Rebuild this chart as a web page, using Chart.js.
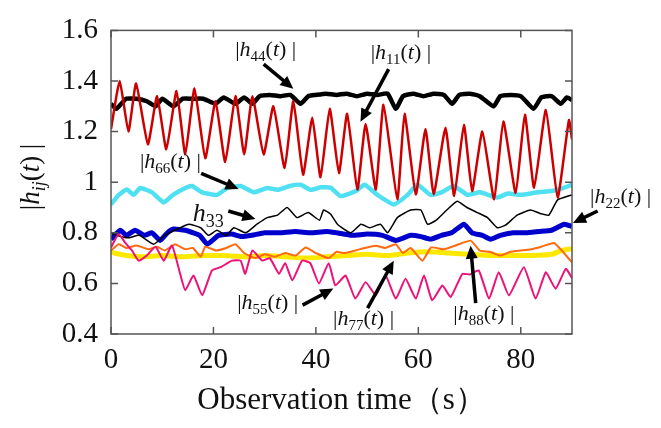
<!DOCTYPE html>
<html>
<head>
<meta charset="utf-8">
<script src="https://cdn.jsdelivr.net/npm/chart.js@4.4.1/dist/chart.umd.min.js"></script>
<style>
  html, body { margin: 0; background: #fff; }
  #wrap { width: 661px; height: 428px; }
</style>
</head>
<body>
<div id="wrap"><canvas id="c"></canvas></div>
<script>
// |h_ij(t)| vs observation time (s)
const t11 = [0, 1.7, 3.4, 4.9, 7.2, 9.0, 10.8, 12.8, 14.5, 16.3, 18.4, 20.4, 22.3, 24.3, 26.0, 27.6, 29.8, 31.7, 33.9, 35.6, 37.5, 39.3, 40.9, 42.7, 44.5, 46.1, 48.1, 49.7, 51.7, 53.2, 55.9, 57.3, 59.5, 61.4, 63.0, 65.3, 67.0, 68.9, 70.5, 72.5, 74.8, 76.6, 79.0, 80.8, 82.6, 84.9, 87.2, 89.4, 90];
const h11 = [1.21, 1.40, 1.20, 1.39, 1.15, 1.34, 1.13, 1.36, 1.11, 1.37, 1.095, 1.32, 1.08, 1.34, 1.11, 1.34, 1.11, 1.30, 1.056, 1.32, 1.03, 1.255, 1.02, 1.29, 1.036, 1.27, 0.971, 1.23, 0.971, 1.306, 0.933, 1.27, 0.952, 1.21, 0.952, 1.215, 0.945, 1.226, 0.965, 1.20, 0.933, 1.24, 0.958, 1.267, 0.978, 1.285, 0.94, 1.245, 1.17];

const t44 = [0, 1, 2, 3, 5, 7, 8.7, 10, 12.2, 14, 16, 18, 20.4, 22, 24.3, 26, 27.6, 29, 31, 33, 35, 37, 38.5, 40, 42, 44, 46, 48, 50, 52, 54, 55.6, 57, 59, 61, 63, 65, 66.6, 68, 70, 72, 74.7, 76, 78, 80, 82.5, 84, 86, 87.8, 89, 90];
const h44 = [1.31, 1.29, 1.31, 1.33, 1.33, 1.32, 1.30, 1.33, 1.30, 1.33, 1.33, 1.33, 1.31, 1.335, 1.31, 1.335, 1.31, 1.34, 1.345, 1.34, 1.345, 1.31, 1.34, 1.345, 1.35, 1.345, 1.35, 1.34, 1.35, 1.345, 1.35, 1.29, 1.34, 1.35, 1.34, 1.35, 1.345, 1.31, 1.345, 1.35, 1.34, 1.30, 1.34, 1.345, 1.34, 1.29, 1.335, 1.34, 1.31, 1.335, 1.325];

const t66 = [0, 1.5, 3.1, 4.4, 5.7, 8, 10.3, 12.1, 14.5, 15.8, 17.8, 20.7, 22.7, 25.3, 27.9, 30.5, 32.5, 34.9, 37, 39, 41, 42.9, 44.8, 47.8, 49.5, 52, 55.2, 57.9, 59.8, 62.4, 64.5, 66.9, 69.6, 72, 75.4, 77.5, 80, 83.3, 86, 88, 90];
const h66 = [0.912, 0.95, 0.971, 0.95, 0.977, 0.96, 0.92, 0.95, 0.977, 0.985, 0.96, 0.95, 0.977, 0.985, 0.96, 0.977, 0.97, 0.985, 0.99, 0.97, 0.98, 0.978, 0.945, 0.965, 0.99, 0.95, 0.912, 0.95, 0.99, 0.95, 0.96, 0.985, 0.95, 0.96, 0.94, 0.955, 0.95, 0.96, 0.965, 0.975, 0.99];

const t33 = [0, 1, 3.4, 5.5, 8.3, 10.5, 13.5, 15.2, 17.5, 19, 20.7, 22.5, 24, 26.3, 28.5, 30.5, 32.5, 34.4, 36.3, 38.5, 40.7, 41.5, 42.9, 44.2, 46.8, 48.8, 50.5, 52.6, 54, 55.9, 58.5, 60.5, 61.8, 63.5, 65.7, 67.6, 69.5, 71.5, 73.5, 75.4, 77, 79.3, 81.9, 84, 85.5, 87.2, 90];
const h33 = [0.80, 0.79, 0.78, 0.79, 0.755, 0.79, 0.82, 0.834, 0.82, 0.79, 0.81, 0.79, 0.82, 0.80, 0.834, 0.86, 0.87, 0.90, 0.86, 0.88, 0.85, 0.89, 0.873, 0.834, 0.80, 0.834, 0.82, 0.834, 0.80, 0.86, 0.89, 0.89, 0.834, 0.85, 0.893, 0.925, 0.90, 0.88, 0.86, 0.82, 0.83, 0.87, 0.89, 0.875, 0.87, 0.93, 0.95];

const t22 = [0, 1.8, 3, 4.7, 6.5, 8, 9.6, 11, 12.2, 14.5, 17.3, 18.8, 21, 23.5, 25.5, 27.5, 30, 33, 36, 39, 42, 44, 47, 50, 53, 55.6, 58.5, 60.5, 62.4, 64.5, 66.5, 68.9, 70.5, 72.5, 74.1, 76, 78.5, 81, 83.5, 86, 88.5, 90];
const h22 = [0.775, 0.81, 0.79, 0.81, 0.79, 0.80, 0.77, 0.80, 0.815, 0.81, 0.79, 0.755, 0.79, 0.795, 0.785, 0.79, 0.80, 0.80, 0.805, 0.80, 0.805, 0.80, 0.79, 0.795, 0.79, 0.77, 0.79, 0.785, 0.775, 0.79, 0.80, 0.834, 0.80, 0.79, 0.775, 0.79, 0.80, 0.80, 0.805, 0.81, 0.834, 0.825];

const t77 = [0, 3, 6, 10, 14, 18, 22, 26, 30, 34, 38, 42, 46, 50, 54, 58, 62, 66, 70, 74, 78, 82, 86, 88, 90];
const h77 = [0.723, 0.71, 0.705, 0.71, 0.705, 0.71, 0.71, 0.705, 0.71, 0.705, 0.70, 0.705, 0.71, 0.715, 0.71, 0.72, 0.725, 0.72, 0.715, 0.71, 0.71, 0.71, 0.715, 0.73, 0.737];

const t88 = [0, 1.5, 3, 5, 7.3, 9, 10.5, 12.5, 14.5, 16, 17.5, 18.4, 20.5, 22.5, 24.3, 26, 28.2, 30, 32, 34, 36, 38, 40, 42.5, 44, 45.5, 47.7, 49.5, 51.7, 53.5, 55.6, 57, 58.5, 60.8, 62.5, 65, 67.3, 70.2, 72, 74, 76, 78, 80, 82, 84, 86.5, 88, 90];
const h88 = [0.73, 0.755, 0.74, 0.75, 0.735, 0.745, 0.73, 0.755, 0.735, 0.74, 0.705, 0.745, 0.73, 0.74, 0.755, 0.72, 0.70, 0.715, 0.705, 0.72, 0.71, 0.742, 0.72, 0.70, 0.725, 0.72, 0.73, 0.74, 0.749, 0.74, 0.755, 0.72, 0.74, 0.69, 0.742, 0.735, 0.75, 0.769, 0.73, 0.725, 0.71, 0.725, 0.73, 0.735, 0.745, 0.76, 0.73, 0.683];

const t55 = [0, 1.5, 2.8, 4.1, 5.4, 7, 8.7, 10.3, 11.9, 13.5, 14.5, 16.1, 17.8, 19.7, 21.4, 23.6, 25.3, 26.2, 27.6, 29.5, 31, 32.8, 34, 35.4, 37.3, 38.9, 40.6, 42.5, 43.8, 45.8, 47.7, 49.7, 51.7, 53.6, 55.6, 57.5, 59.5, 61.1, 62.7, 64.7, 66.3, 68.6, 70, 71.8, 73.8, 75.7, 77.7, 80.6, 82.9, 84.9, 86.8, 88.8, 90];
const h55 = [0.742, 0.795, 0.76, 0.73, 0.69, 0.71, 0.745, 0.69, 0.75, 0.638, 0.573, 0.631, 0.553, 0.651, 0.664, 0.69, 0.69, 0.638, 0.73, 0.69, 0.70, 0.638, 0.68, 0.612, 0.69, 0.68, 0.60, 0.68, 0.592, 0.631, 0.54, 0.605, 0.553, 0.631, 0.54, 0.618, 0.54, 0.631, 0.533, 0.592, 0.546, 0.638, 0.635, 0.651, 0.54, 0.644, 0.553, 0.664, 0.54, 0.644, 0.579, 0.658, 0.62];

const xTicks = [0, 20, 40, 60, 80];
const yTicks = [0.4, 0.6, 0.8, 1.0, 1.2, 1.4, 1.6];

const SERIF = '"Liberation Serif", "DejaVu Serif", serif';
const pts = (t, v) => t.map((x, i) => ({ x, y: v[i] }));

// label text pieces: [text, italic, subscript]
const lab = (n) => [["|"], ["h", 1], [n, 0, 1], ["("], ["t", 1], [")"], [" |"]];
// annotations, in data units (label centre, arrow tail, arrow head)
const notes = [
  { parts: lab("44"), at: [30.2, 1.525], from: [29.8, 1.467], to: [35.6, 1.369] },
  { parts: lab("11"), at: [56.6, 1.514], from: [54.2, 1.447], to: [48.7, 1.239] },
  { parts: lab("66"), at: [11.6, 1.082], from: [17.6, 1.035], to: [24.9, 0.973] },
  { parts: [["h", 1], ["33", 0, 1]], at: [19.0, 0.878], size: 26, from: [22.9, 0.886], to: [28.2, 0.855] },
  { parts: lab("22"), at: [99.5, 0.945], from: [95.0, 0.886], to: [90.2, 0.839] },
  { parts: lab("55"), at: [30.6, 0.525], from: [37.4, 0.514], to: [43.4, 0.58] },
  { parts: lab("77"), at: [49.3, 0.463], from: [50.1, 0.502], to: [55.2, 0.69] },
  { parts: lab("88"), at: [72.8, 0.482], from: [71.2, 0.522], to: [70.2, 0.749] },
];

function drawRich(ctx, parts, x, y, size) {
  const sub = Math.round(size * 0.68);
  const fontOf = (p) => (p[1] ? "italic " : "") + (p[2] ? sub : size) + "px " + SERIF;
  let w = 0;
  parts.forEach(p => { ctx.font = fontOf(p); w += ctx.measureText(p[0]).width; });
  let cx = x - w / 2;
  ctx.textAlign = "left";
  ctx.textBaseline = "alphabetic";
  parts.forEach(p => {
    ctx.font = fontOf(p);
    ctx.fillText(p[0], cx, y + size * 0.3 + (p[2] ? size * 0.22 : 0));
    cx += ctx.measureText(p[0]).width;
  });
}

function arrow(ctx, x1, y1, x2, y2) {
  const a = Math.atan2(y2 - y1, x2 - x1);
  const L = 13, W = 6;
  ctx.lineWidth = 3.5;
  ctx.beginPath();
  ctx.moveTo(x1, y1);
  ctx.lineTo(x2 - L * 0.8 * Math.cos(a), y2 - L * 0.8 * Math.sin(a));
  ctx.stroke();
  ctx.beginPath();
  ctx.moveTo(x2, y2);
  ctx.lineTo(x2 - L * Math.cos(a) + W * Math.sin(a), y2 - L * Math.sin(a) - W * Math.cos(a));
  ctx.lineTo(x2 - L * Math.cos(a) - W * Math.sin(a), y2 - L * Math.sin(a) + W * Math.cos(a));
  ctx.closePath();
  ctx.fill();
}

const decor = {
  id: "decor",
  afterDraw(chart) {
    const { ctx, chartArea: a, scales: { x, y } } = chart;
    ctx.save();
    // frame with inward ticks
    ctx.strokeStyle = "#555";
    ctx.lineWidth = 1.5;
    ctx.strokeRect(a.left, a.top, a.right - a.left, a.bottom - a.top);
    ctx.beginPath();
    xTicks.forEach(v => {
      const px = x.getPixelForValue(v);
      ctx.moveTo(px, a.bottom); ctx.lineTo(px, a.bottom - 7);
      ctx.moveTo(px, a.top); ctx.lineTo(px, a.top + 7);
    });
    yTicks.forEach(v => {
      const py = y.getPixelForValue(v);
      ctx.moveTo(a.left, py); ctx.lineTo(a.left + 7, py);
      ctx.moveTo(a.right, py); ctx.lineTo(a.right - 7, py);
    });
    ctx.stroke();

    // annotations
    ctx.fillStyle = "#111";
    ctx.strokeStyle = "#000";
    notes.forEach(n => {
      drawRich(ctx, n.parts, x.getPixelForValue(n.at[0]), y.getPixelForValue(n.at[1]), n.size || 22);
      ctx.fillStyle = "#000";
      arrow(ctx, x.getPixelForValue(n.from[0]), y.getPixelForValue(n.from[1]),
                 x.getPixelForValue(n.to[0]), y.getPixelForValue(n.to[1]));
      ctx.fillStyle = "#111";
    });

    // y axis title
    ctx.translate(31, 177);
    ctx.rotate(-Math.PI / 2);
    drawRich(ctx, [["|"], ["h", 1], ["ij", 1, 1], ["("], ["t", 1], [")"], [" |"]], 0, 0, 27);
    ctx.restore();
  }
};

const line = (label, data, color, width) => ({
  label, data, borderColor: color, borderWidth: width,
  pointRadius: 0, tension: 0.15, fill: false,
});

new Chart(document.getElementById("c"), {
  type: "line",
  data: {
    datasets: [
      line("|h55(t)|", pts(t55, h55), "#ee1177", 2),
      line("|h88(t)|", pts(t88, h88), "#ff6a10", 2),
      line("|h33(t)|", pts(t33, h33), "#000000", 1.5),
      line("|h11(t)|", pts(t11, h11), "#cc0000", 2.5),
      line("|h44(t)|", pts(t44, h44), "#000000", 4.5),
      line("|h77(t)|", pts(t77, h77), "#ffe800", 5),
      line("|h22(t)|", pts(t22, h22), "#0000cc", 5),
      line("|h66(t)|", pts(t66, h66), "#4fe0f2", 4.5),
    ],
  },
  options: {
    responsive: true,
    maintainAspectRatio: false,
    animation: false,
    events: [],
    layout: { padding: { top: 28, right: 89, left: 0, bottom: 0 } },
    plugins: { legend: { display: false }, tooltip: { enabled: false } },
    scales: {
      x: {
        type: "linear", min: 0, max: 90,
        afterFit: s => { s.height = 94; },
        afterBuildTicks: s => { s.ticks = xTicks.map(value => ({ value })); },
        grid: { display: false, drawTicks: false },
        border: { display: false },
        ticks: { padding: 9, color: "#111", font: { family: SERIF, size: 29 } },
        title: {
          display: true, text: "Observation time（s）", color: "#111",
          font: { family: SERIF, size: 31 }, padding: { top: 0, bottom: 9 },
        },
      },
      y: {
        min: 0.4, max: 1.6,
        afterFit: s => { s.width = 111; },
        afterBuildTicks: s => { s.ticks = yTicks.map(value => ({ value })); },
        grid: { display: false, drawTicks: false },
        border: { display: false },
        ticks: {
          padding: 13, color: "#111", font: { family: SERIF, size: 29 },
          callback: v => String(+v.toFixed(1)),
        },
      },
    },
  },
  plugins: [decor],
});
</script>
</body>
</html>
